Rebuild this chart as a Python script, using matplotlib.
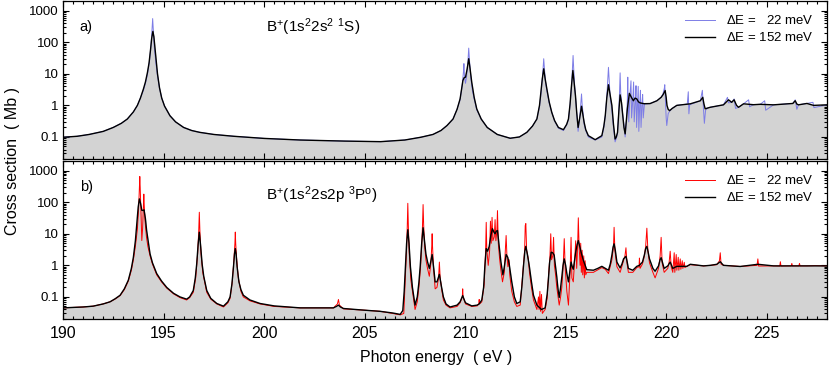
#!/usr/bin/env python3
"""
Photoionisation cross sections of B+ (1s2 2s2 1S and 1s2 2s2p 3Po),
two energy resolutions, 190-228 eV photon energy.

Output: out.png
"""

import matplotlib.pyplot as plt
from matplotlib.ticker import MultipleLocator, LogLocator, NullFormatter

# ---------------------------------------------------------------------------
# Style
# ---------------------------------------------------------------------------
FILL_GRAY = "#d3d3d3"
BLUE = "#7d7de6"
RED = "#ff0000"
BLACK = "#000000"

plt.rcParams.update({
    "font.family": ["Liberation Sans", "DejaVu Sans"],
    "mathtext.default": "regular",
    "font.size": 10,
})

# ---------------------------------------------------------------------------
# Data: (photon energy eV, cross section Mb)
# ---------------------------------------------------------------------------
# panel a) ground state, 152 meV resolution
A_BROAD = [
    (190.0, 0.098), (190.7, 0.105), (191.3, 0.12), (192.0, 0.15), (192.5, 0.2),
    (192.9, 0.27), (193.2, 0.37), (193.5, 0.62), (193.7, 1.0), (193.85, 1.7),
    (194.0, 3.3), (194.1, 5.5), (194.2, 11), (194.28, 22), (194.35, 55),
    (194.41, 130), (194.47, 220), (194.52, 150), (194.57, 70), (194.63, 28),
    (194.7, 10), (194.8, 3.6), (194.91, 1.7), (195.05, 0.95), (195.32, 0.47),
    (195.6, 0.3), (196.0, 0.2), (196.4, 0.16), (196.8, 0.14), (197.5, 0.12),
    (198.5, 0.105), (200.0, 0.09), (201.8, 0.08), (204.0, 0.074), (205.8, 0.071),
    (207.0, 0.08), (207.8, 0.098), (208.4, 0.12), (208.8, 0.16), (209.1, 0.23),
    (209.4, 0.37), (209.6, 0.75), (209.75, 1.6), (209.83, 3.5), (209.89, 6.1),
    (209.95, 7.5), (210.02, 7.8), (210.1, 14), (210.18, 30), (210.25, 14),
    (210.33, 5.4), (210.45, 1.8), (210.58, 0.77), (210.8, 0.37), (211.1, 0.2),
    (211.6, 0.12), (212.24, 0.091), (212.7, 0.1), (213.07, 0.14), (213.35, 0.22),
    (213.57, 0.37), (213.7, 1.0), (213.77, 2.6), (213.84, 7), (213.91, 14.4),
    (213.98, 7), (214.06, 3.5), (214.18, 1.3), (214.31, 0.6), (214.45, 0.33),
    (214.64, 0.2), (214.89, 0.17), (215.05, 0.25), (215.14, 0.37), (215.22, 1.1),
    (215.28, 3.5), (215.36, 12.7), (215.43, 4.5), (215.49, 2.0), (215.55, 0.6),
    (215.62, 0.2), (215.7, 0.4), (215.79, 0.94), (215.86, 0.5), (215.92, 0.29),
    (216.0, 0.17), (216.13, 0.11), (216.47, 0.082), (216.8, 0.11), (216.9, 0.22),
    (216.97, 0.47), (217.05, 1.8), (217.13, 4.5), (217.21, 2.2), (217.3, 1.0),
    (217.38, 0.25), (217.46, 0.086), (217.52, 0.1), (217.58, 0.14), (217.65, 0.7),
    (217.71, 2.15), (217.78, 1.2), (217.84, 0.47), (217.9, 0.2), (217.96, 0.125),
    (218.02, 0.35), (218.07, 0.78), (218.17, 2.4), (218.27, 1.8), (218.37, 1.4),
    (218.45, 1.7), (218.54, 1.6), (218.62, 1.3), (218.7, 1.2), (218.9, 1.13),
    (219.2, 1.14), (219.54, 1.4), (219.75, 1.8), (219.84, 2.15), (219.95, 2.95),
    (220.0, 1.8), (220.04, 1.0), (220.1, 0.75), (220.17, 0.68), (220.3, 0.8),
    (220.53, 1.0), (221.2, 1.12), (221.7, 1.4), (221.82, 1.8), (221.88, 1.1),
    (221.94, 0.78), (222.05, 0.82), (222.19, 0.87), (222.85, 1.04), (223.1, 1.5),
    (223.26, 1.25), (223.38, 1.5), (223.5, 1.0), (223.6, 0.87), (223.85, 1.12),
    (224.34, 1.05), (224.68, 1.08), (225.34, 1.04), (226.3, 1.15), (226.42, 1.4),
    (226.5, 1.1), (226.58, 1.04), (227.0, 1.15), (227.33, 1.0), (228.0, 1.04),
]

# panel a) ground state, 22 meV resolution
A_NARROW = [
    (190.0, 0.098), (190.7, 0.105), (191.3, 0.12), (192.0, 0.15), (192.5, 0.2),
    (192.9, 0.27), (193.2, 0.37), (193.5, 0.62), (193.7, 1.0), (193.85, 1.7),
    (194.0, 3.0), (194.1, 5), (194.2, 9.5), (194.3, 25), (194.38, 80),
    (194.43, 250), (194.46, 560), (194.49, 250), (194.54, 70), (194.62, 22),
    (194.7, 8.5), (194.8, 3.5), (194.91, 1.7), (195.05, 0.95), (195.32, 0.47),
    (195.6, 0.3), (196.0, 0.2), (196.4, 0.16), (196.8, 0.14), (197.5, 0.12),
    (198.5, 0.105), (200.0, 0.09), (201.8, 0.08), (204.0, 0.074), (205.8, 0.071),
    (207.0, 0.08), (207.8, 0.098), (208.4, 0.12), (208.8, 0.16), (209.1, 0.23),
    (209.4, 0.37), (209.6, 0.75), (209.75, 1.5), (209.85, 4), (209.92, 12),
    (209.94, 21), (209.97, 8), (210.02, 5), (210.08, 9), (210.14, 25),
    (210.18, 65), (210.22, 25), (210.28, 8), (210.36, 3), (210.45, 1.6),
    (210.58, 0.72), (210.8, 0.37), (211.1, 0.2), (211.6, 0.12), (212.24, 0.091),
    (212.7, 0.1), (213.07, 0.14), (213.35, 0.22), (213.57, 0.37), (213.7, 0.9),
    (213.78, 2.5), (213.85, 8), (213.89, 18), (213.91, 30), (213.94, 16),
    (213.99, 6), (214.06, 3), (214.18, 1.2), (214.31, 0.6), (214.45, 0.32),
    (214.64, 0.19), (214.89, 0.16), (215.05, 0.24), (215.14, 0.35), (215.22, 1.0),
    (215.29, 3.5), (215.34, 15), (215.37, 38), (215.4, 15), (215.45, 4),
    (215.5, 1.5), (215.56, 0.5), (215.62, 0.15), (215.7, 0.4), (215.76, 1.2),
    (215.79, 2.3), (215.82, 1.1), (215.88, 0.45), (215.92, 0.25), (216.0, 0.16),
    (216.13, 0.1), (216.47, 0.08), (216.8, 0.1), (216.9, 0.2), (216.98, 0.5),
    (217.05, 2), (217.1, 7), (217.13, 16), (217.16, 7), (217.21, 2),
    (217.3, 0.7), (217.38, 0.2), (217.46, 0.07), (217.52, 0.09), (217.58, 0.13),
    (217.64, 0.6), (217.68, 2.5), (217.71, 10.7), (217.74, 2.5), (217.8, 0.8),
    (217.9, 0.25), (217.96, 0.1), (218.03, 0.35), (218.07, 1.5), (218.09, 7.8),
    (218.11, 1.2), (218.14, 0.3), (218.2, 2.2), (218.25, 6), (218.28, 0.4),
    (218.34, 1.5), (218.38, 5.5), (218.41, 0.3), (218.47, 1.4), (218.5, 4.2),
    (218.53, 0.2), (218.58, 1.4), (218.61, 4), (218.64, 0.15), (218.69, 1.3),
    (218.72, 3), (218.75, 0.2), (218.8, 1.2), (218.83, 2.2), (218.86, 0.4),
    (218.92, 1.1), (219.2, 1.14), (219.54, 1.4), (219.75, 1.8), (219.84, 2.3),
    (219.91, 3.5), (219.93, 4.5), (219.96, 1.5), (220.0, 0.4), (220.03, 0.23),
    (220.1, 0.55), (220.17, 0.65), (220.3, 0.8), (220.53, 1.0), (221.05, 1.1),
    (221.1, 2.7), (221.13, 0.54), (221.17, 1.05), (221.7, 1.4), (221.8, 3.0),
    (221.84, 1.2), (221.9, 0.27), (221.96, 0.7), (222.05, 0.82), (222.19, 0.87),
    (222.85, 1.04), (223.05, 1.8), (223.1, 1.2), (223.26, 1.25), (223.38, 1.6),
    (223.45, 0.8), (223.6, 0.87), (223.85, 1.12), (224.1, 1.5), (224.15, 0.9),
    (224.34, 1.05), (224.68, 1.08), (224.9, 1.4), (224.95, 0.7), (225.34, 1.04),
    (226.3, 1.15), (226.42, 1.5), (226.5, 0.75), (226.58, 1.04), (227.0, 1.15),
    (227.3, 1.25), (227.35, 0.85), (228.0, 1.04),
]

# panel b) metastable state, 152 meV resolution
B_BROAD = [
    (190.0, 0.045), (191.0, 0.048), (191.5, 0.051), (192.0, 0.06), (192.34, 0.07),
    (192.6, 0.088), (192.84, 0.113), (193.05, 0.18), (193.25, 0.34), (193.4, 0.8),
    (193.5, 1.8), (193.6, 6), (193.67, 21), (193.74, 70), (193.8, 127),
    (193.86, 90), (193.92, 55), (193.98, 55), (194.03, 57), (194.1, 30),
    (194.16, 12.7), (194.25, 5), (194.33, 2.3), (194.45, 1.2), (194.66, 0.55),
    (194.9, 0.32), (195.16, 0.2), (195.5, 0.13), (195.82, 0.1), (196.15, 0.085),
    (196.3, 0.1), (196.48, 0.16), (196.58, 0.4), (196.65, 1.1), (196.72, 4.5),
    (196.78, 11.2), (196.84, 4.5), (196.92, 1.1), (197.0, 0.45), (197.15, 0.16),
    (197.35, 0.09), (197.65, 0.062), (197.98, 0.051), (198.2, 0.07), (198.31, 0.1),
    (198.4, 0.25), (198.48, 0.9), (198.53, 2.3), (198.57, 3.4), (198.61, 2.3),
    (198.66, 0.9), (198.75, 0.3), (198.85, 0.17), (198.97, 0.113), (199.3, 0.08),
    (199.8, 0.062), (200.5, 0.052), (201.8, 0.045), (203.45, 0.045), (203.6, 0.05),
    (203.7, 0.055), (203.8, 0.048), (203.95, 0.043), (205.0, 0.038), (205.77, 0.035),
    (206.4, 0.031), (206.77, 0.028), (206.9, 0.037), (206.97, 0.15), (207.03, 0.9),
    (207.09, 5), (207.15, 13.4), (207.21, 5), (207.28, 0.9), (207.38, 0.2),
    (207.51, 0.055), (207.62, 0.1), (207.7, 0.28), (207.77, 1.0), (207.84, 5),
    (207.91, 15.5), (207.98, 6), (208.05, 2.3), (208.13, 1.3), (208.22, 0.8),
    (208.29, 1.3), (208.36, 2.2), (208.44, 0.8), (208.51, 0.3), (208.6, 0.3),
    (208.72, 0.52), (208.82, 0.22), (208.92, 0.1), (209.05, 0.06), (209.25, 0.048),
    (209.6, 0.055), (209.75, 0.07), (209.88, 0.11), (209.96, 0.08), (210.02, 0.065),
    (210.33, 0.052), (210.6, 0.055), (210.7, 0.06), (210.83, 0.08), (210.92, 0.2),
    (210.98, 0.9), (211.05, 3.4), (211.12, 2.8), (211.2, 4), (211.28, 9),
    (211.36, 14.4), (211.44, 11), (211.49, 10), (211.55, 12), (211.61, 12.7),
    (211.68, 5), (211.78, 1.3), (211.88, 0.5), (211.95, 0.9), (212.04, 2.2),
    (212.12, 1.8), (212.19, 1.13), (212.32, 0.3), (212.45, 0.1), (212.57, 0.062),
    (212.74, 0.07), (212.82, 0.2), (212.9, 0.9), (212.97, 2.8), (213.02, 4.0),
    (213.1, 2.2), (213.2, 0.88), (213.3, 0.3), (213.4, 0.113), (213.57, 0.055),
    (213.8, 0.04), (213.98, 0.045), (214.08, 0.12), (214.14, 0.34), (214.2, 1.2),
    (214.28, 2.6), (214.36, 2.5), (214.43, 2.1), (214.5, 0.9), (214.56, 0.43),
    (214.62, 0.18), (214.68, 0.096), (214.75, 0.2), (214.81, 0.43), (214.87, 1.0),
    (214.93, 1.6), (215.0, 1.0), (215.06, 0.55), (215.14, 0.3), (215.2, 0.6),
    (215.27, 1.27), (215.33, 0.9), (215.38, 0.75), (215.44, 1.4), (215.5, 2.6),
    (215.57, 4.5), (215.63, 6.1), (215.7, 4), (215.77, 2.6), (215.88, 1.44),
    (216.05, 0.73), (216.38, 0.7), (216.6, 0.8), (216.8, 0.93), (216.97, 0.8),
    (217.13, 0.7), (217.22, 1.1), (217.3, 2.1), (217.36, 3.8), (217.41, 4.8),
    (217.47, 3), (217.55, 1.27), (217.71, 0.83), (217.8, 1.1), (217.88, 1.6),
    (218.0, 1.93), (218.06, 1.3), (218.12, 0.8), (218.34, 0.7), (218.54, 0.93),
    (218.67, 1.0), (218.82, 1.27), (218.92, 2.2), (218.98, 3.4), (219.04, 4.0),
    (219.1, 2.7), (219.17, 1.6), (219.34, 0.8), (219.45, 0.65), (219.62, 0.96),
    (219.7, 1.5), (219.75, 1.75), (219.82, 1.2), (219.9, 0.8), (220.08, 0.96),
    (220.2, 1.27), (220.33, 0.8), (220.53, 0.93), (221.03, 0.93), (221.2, 1.08),
    (221.86, 0.96), (222.2, 1.0), (222.52, 1.08), (222.69, 1.3), (222.85, 1.0),
    (223.68, 0.92), (224.56, 1.08), (225.34, 0.96), (228.0, 0.96),
]

# panel b) metastable state, 22 meV resolution
B_NARROW = [
    (190.0, 0.045), (191.0, 0.048), (191.5, 0.051), (192.0, 0.06), (192.34, 0.07),
    (192.6, 0.086), (192.84, 0.11), (193.05, 0.17), (193.25, 0.32), (193.4, 0.7),
    (193.5, 1.5), (193.6, 4), (193.7, 14), (193.76, 60), (193.8, 300),
    (193.82, 650), (193.84, 300), (193.88, 40), (193.92, 6.1), (193.96, 15),
    (194.0, 80), (194.02, 180), (194.04, 80), (194.08, 25), (194.15, 8),
    (194.22, 4), (194.33, 2), (194.45, 1.1), (194.66, 0.5), (194.9, 0.3),
    (195.16, 0.19), (195.5, 0.125), (195.82, 0.095), (196.15, 0.08), (196.3, 0.095),
    (196.48, 0.14), (196.6, 0.4), (196.7, 2.5), (196.75, 12), (196.78, 48),
    (196.81, 12), (196.86, 2.5), (196.95, 0.6), (197.15, 0.14), (197.35, 0.085),
    (197.65, 0.06), (197.98, 0.048), (198.2, 0.065), (198.31, 0.09), (198.42, 0.3),
    (198.5, 1.5), (198.55, 5), (198.57, 11.3), (198.59, 5), (198.64, 1.5),
    (198.72, 0.4), (198.85, 0.15), (198.97, 0.1), (199.3, 0.075), (199.8, 0.06),
    (200.5, 0.05), (201.8, 0.045), (203.45, 0.045), (203.65, 0.06), (203.7, 0.083),
    (203.75, 0.055), (203.95, 0.042), (205.0, 0.038), (205.77, 0.035), (206.4, 0.03),
    (206.77, 0.027), (206.95, 0.03), (207.02, 0.3), (207.08, 2.5), (207.12, 15),
    (207.15, 92), (207.18, 15), (207.22, 2.5), (207.3, 0.35), (207.51, 0.04),
    (207.62, 0.07), (207.7, 0.2), (207.78, 0.8), (207.84, 4), (207.88, 18),
    (207.91, 84), (207.94, 18), (207.99, 4), (208.05, 1.5), (208.13, 0.8),
    (208.22, 0.45), (208.3, 1.2), (208.34, 4), (208.36, 10), (208.38, 4),
    (208.43, 0.8), (208.51, 0.18), (208.6, 0.2), (208.68, 0.4), (208.72, 1.27),
    (208.76, 0.4), (208.85, 0.15), (208.92, 0.08), (209.05, 0.055), (209.25, 0.045),
    (209.6, 0.05), (209.75, 0.065), (209.86, 0.1), (209.88, 0.18), (209.9, 0.1),
    (210.02, 0.06), (210.33, 0.05), (210.6, 0.052), (210.68, 0.06), (210.7, 0.083),
    (210.72, 0.06), (210.83, 0.07), (210.95, 0.25), (211.02, 3), (211.05, 23),
    (211.08, 3), (211.15, 1.0), (211.22, 3), (211.26, 25), (211.3, 5),
    (211.34, 33), (211.38, 6), (211.45, 8), (211.49, 28), (211.53, 6),
    (211.58, 12), (211.61, 54), (211.65, 5), (211.72, 1.5), (211.78, 0.7),
    (211.86, 0.3), (211.95, 0.6), (212.0, 3), (212.04, 8.8), (212.08, 2),
    (212.13, 0.9), (212.19, 1.5), (212.22, 0.5), (212.32, 0.15), (212.45, 0.07),
    (212.57, 0.05), (212.74, 0.055), (212.85, 0.4), (212.96, 3), (212.99, 18),
    (213.02, 21), (213.06, 3), (213.15, 1.5), (213.2, 0.6), (213.3, 0.2),
    (213.4, 0.08), (213.57, 0.04), (213.65, 0.1), (213.68, 0.04), (213.72, 0.15),
    (213.75, 0.035), (213.8, 0.12), (213.84, 0.03), (213.98, 0.04), (214.08, 0.09),
    (214.12, 0.25), (214.22, 2), (214.26, 10), (214.3, 1.5), (214.36, 2),
    (214.4, 7.7), (214.44, 1), (214.5, 0.5), (214.56, 0.2), (214.68, 0.055),
    (214.75, 0.1), (214.81, 0.2), (214.88, 1), (214.93, 7), (214.98, 0.8),
    (215.06, 0.15), (215.14, 0.055), (215.22, 0.6), (215.27, 7.7), (215.31, 0.4),
    (215.38, 0.3), (215.45, 1.5), (215.5, 6), (215.55, 0.8), (215.6, 5),
    (215.63, 32), (215.67, 4), (215.72, 1.0), (215.75, 5), (215.78, 0.6),
    (215.82, 3), (215.85, 0.5), (215.9, 2), (215.93, 0.4), (215.97, 1.4),
    (216.0, 0.5), (216.05, 0.6), (216.38, 0.6), (216.8, 0.85), (216.97, 0.75),
    (217.13, 0.55), (217.3, 1.5), (217.38, 4), (217.41, 16), (217.45, 3),
    (217.55, 0.9), (217.71, 0.6), (217.85, 1.2), (217.95, 2), (218.0, 3.6),
    (218.05, 1.2), (218.12, 0.6), (218.34, 0.6), (218.54, 0.85), (218.65, 0.9),
    (218.67, 1.7), (218.7, 0.8), (218.82, 1.1), (218.92, 2), (218.98, 4),
    (219.04, 15), (219.09, 3), (219.17, 1.2), (219.34, 0.6), (219.45, 0.4),
    (219.62, 0.8), (219.7, 2), (219.75, 7.7), (219.8, 1.2), (219.9, 0.6),
    (220.08, 0.8), (220.15, 1.3), (220.2, 2.8), (220.25, 0.9), (220.33, 0.6),
    (220.4, 2.5), (220.43, 0.6), (220.5, 2.2), (220.53, 0.7), (220.6, 1.8),
    (220.63, 0.7), (220.7, 1.6), (220.73, 0.75), (220.8, 1.4), (220.83, 0.8),
    (220.9, 1.25), (220.93, 0.85), (221.03, 0.93), (221.2, 1.05), (221.86, 0.96),
    (222.2, 1.0), (222.52, 1.05), (222.65, 1.4), (222.69, 2.5), (222.73, 1.1),
    (222.85, 1.0), (223.68, 0.92), (224.52, 1.0), (224.56, 1.6), (224.6, 0.95),
    (225.34, 0.96), (225.65, 0.95), (225.68, 1.3), (225.71, 0.95), (226.22, 0.96),
    (226.25, 1.15), (226.28, 0.96), (226.6, 0.96), (226.63, 1.15), (226.66, 0.96),
    (227.0, 0.96), (227.4, 0.98), (228.0, 0.96),
]

X_RANGE = (190, 228)
Y_RANGE = (0.02, 2000)
Y_TICKS = [0.1, 1, 10, 100, 1000]
Y_TICK_LABELS = ["0.1", "1", "10", "100", "1000"]

TAGS = ["a)", "b)"]
TITLES = [r"B$^{+}$(1s$^{2}$2s$^{2}$ $^{1}$S)",
          r"B$^{+}$(1s$^{2}$2s2p $^{3}$P$^{o}$)"]
LABEL_NARROW = r"$\Delta$E =   22 meV"
LABEL_BROAD = r"$\Delta$E = 152 meV"


def style_axis(ax, show_xlabels):
    ax.set_xlim(*X_RANGE)
    ax.set_yscale("log")
    ax.set_ylim(*Y_RANGE)
    ax.xaxis.set_major_locator(MultipleLocator(5))
    ax.xaxis.set_minor_locator(MultipleLocator(0.5))
    ax.set_yticks(Y_TICKS)
    ax.set_yticklabels(Y_TICK_LABELS)
    ax.yaxis.set_minor_locator(LogLocator(base=10, subs=range(2, 10), numticks=20))
    ax.yaxis.set_minor_formatter(NullFormatter())
    ax.tick_params(which="both", direction="in", top=True, right=True,
                   width=0.8)
    ax.tick_params(which="major", length=4.5)
    ax.tick_params(which="minor", length=2.2)
    ax.tick_params(axis="y", labelsize=9.5, pad=3)
    ax.tick_params(axis="x", labelsize=11.5, pad=5,
                   labelbottom=show_xlabels)
    for sp in ax.spines.values():
        sp.set_linewidth(0.9)


def main():
    fig = plt.figure(figsize=(8.3, 3.69), dpi=100)
    ax_a = fig.add_axes([0.0759, 0.569, 0.9205, 0.428])
    ax_b = fig.add_axes([0.0759, 0.1355, 0.9205, 0.428])

    panels = [
        (ax_a, A_BROAD, A_NARROW, BLUE, 0.835),
        (ax_b, B_BROAD, B_NARROW, RED, 0.785),
    ]
    for i, (ax, broad, narrow, col, title_y) in enumerate(panels):
        e_b, s_b = zip(*broad)
        e_n, s_n = zip(*narrow)
        ax.fill_between(e_b, s_b, 1e-3, color=FILL_GRAY, linewidth=0, zorder=1)
        ax.plot(e_n, s_n, color=col, lw=0.7, label=LABEL_NARROW, zorder=2)
        ax.plot(e_b, s_b, color=BLACK, lw=1.0, label=LABEL_BROAD, zorder=3)
        style_axis(ax, i == 1)

        ax.text(0.022, 0.835, TAGS[i], transform=ax.transAxes,
                ha="left", va="center", fontsize=10.5)
        ax.text(0.266, title_y, TITLES[i], transform=ax.transAxes,
                ha="left", va="center", fontsize=11)
        ax.legend(loc="upper right", frameon=False, fontsize=9.5,
                  handlelength=2.3, handletextpad=0.8, labelspacing=0.3,
                  borderaxespad=0.6)

    fig.text(0.015, 0.565, "Cross section  ( Mb )", rotation=90,
             ha="center", va="center", fontsize=11.5)
    fig.text(0.525, 0.03, "Photon energy  ( eV )", ha="center",
             va="center", fontsize=11.5)

    fig.savefig("out.png", dpi=100)
    plt.close(fig)


if __name__ == "__main__":
    main()
